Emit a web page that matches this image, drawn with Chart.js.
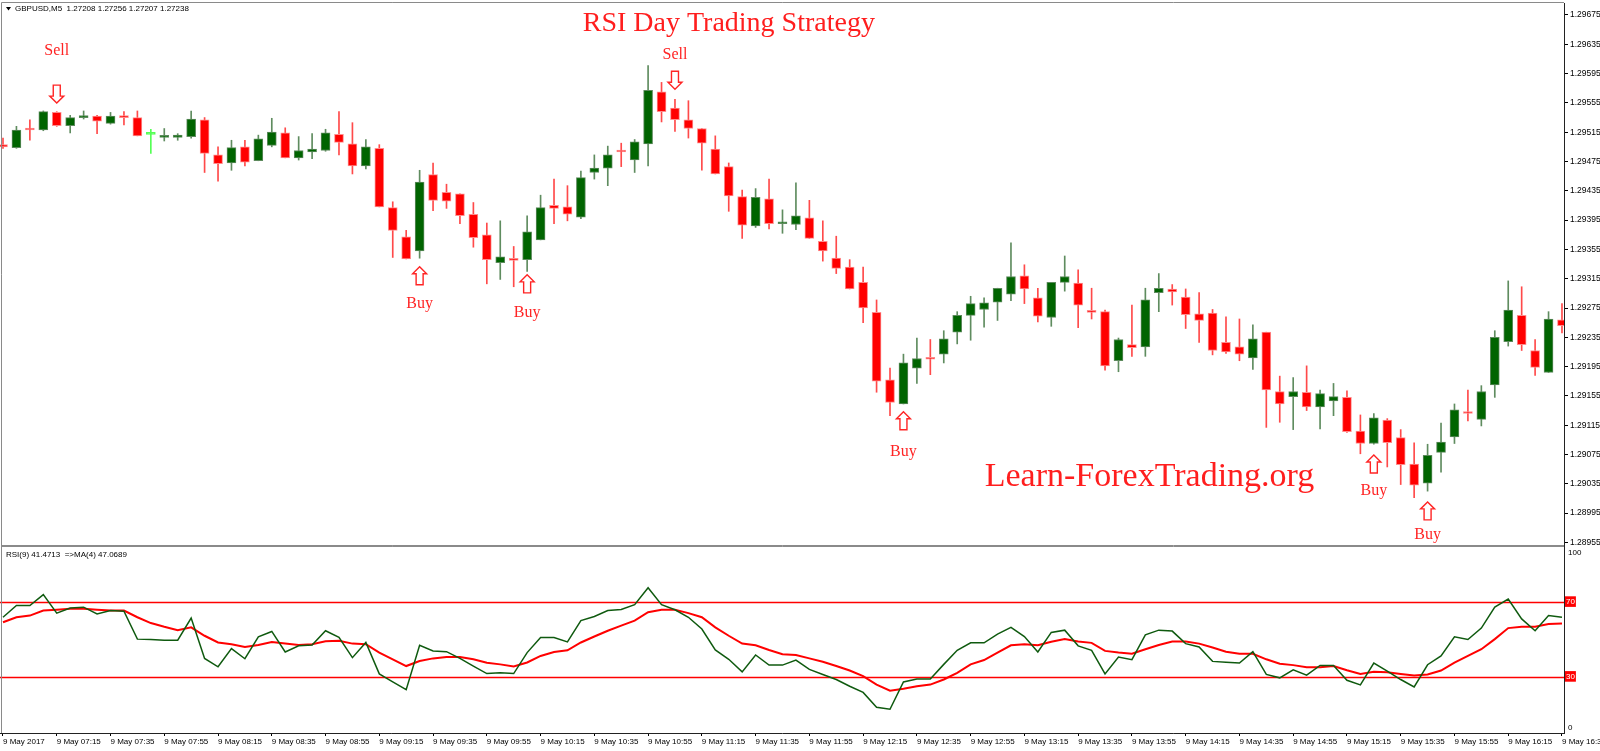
<!DOCTYPE html>
<html><head><meta charset="utf-8">
<script src="https://cdn.jsdelivr.net/npm/chart.js@4.4.1/dist/chart.umd.min.js"></script>
<style>
html,body{margin:0;padding:0;background:#fff;overflow:hidden;}
#wrap{position:relative;width:1600px;height:751px;background:#fff;}
#c1{position:absolute;left:0;top:0;}
#c2{position:absolute;left:0;top:546px;}
</style></head><body>
<div id="wrap">
<canvas id="c1" width="1600" height="546"></canvas>
<canvas id="c2" width="1600" height="205"></canvas>
</div>
<script>
// ---------------- DATA ----------------
const headerText = "GBPUSD,M5  1.27208 1.27256 1.27207 1.27238";
const titleText = "RSI Day Trading Strategy";
const siteText = "Learn-ForexTrading.org";
const rsiLabel = "RSI(9) 41.4713  =>MA(4) 47.0689";

const opens = [1.29498,1.29494,1.29519,1.29518,1.29542,1.29524,1.29535,1.29537,1.29527,1.29537,
1.29535,1.29512,1.29508,1.29508,1.29509,1.29532,1.29484,1.29473,1.29495,1.29476,
1.29497,1.29514,1.29480,1.29488,1.29490,1.29512,1.29499,1.29469,1.29493,1.29412,
1.29372,1.29353,1.29457,1.29433,1.29431,1.29403,1.29375,1.29337,1.29342,1.29341,
1.29368,1.29415,1.29413,1.29399,1.29460,1.29466,1.29490,1.29477,1.29499,1.29570,
1.29548,1.29532,1.29520,1.29492,1.29468,1.29427,1.29387,1.29424,1.29390,1.29389,
1.29398,1.29366,1.29343,1.29331,1.29310,1.29269,1.29177,1.29144,1.29193,1.29206,
1.29212,1.29242,1.29265,1.29273,1.29283,1.29294,1.29319,1.29289,1.29262,1.29310,
1.29309,1.29271,1.29270,1.29203,1.29225,1.29222,1.29296,1.29301,1.29290,1.29267,
1.29268,1.29228,1.29222,1.29207,1.29242,1.29161,1.29154,1.29160,1.29140,1.29148,
1.29153,1.29107,1.29090,1.29122,1.29098,1.29062,1.29036,1.29078,1.29099,1.29132,
1.29123,1.29170,1.29229,1.29265,1.29217,1.29187,1.29259];
const highs = [1.29507,1.29523,1.29532,1.29544,1.29543,1.29538,1.29544,1.29538,1.29542,1.29543,
1.29544,1.29519,1.29520,1.29513,1.29544,1.29535,1.29495,1.29504,1.29504,1.29511,
1.29534,1.29521,1.29509,1.29513,1.29519,1.29543,1.29528,1.29505,1.29498,1.29420,
1.29381,1.29463,1.29473,1.29444,1.29431,1.29419,1.29391,1.29394,1.29359,1.29401,
1.29429,1.29451,1.29442,1.29462,1.29484,1.29496,1.29500,1.29505,1.29606,1.29583,
1.29560,1.29558,1.29520,1.29510,1.29473,1.29436,1.29438,1.29451,1.29409,1.29446,
1.29422,1.29394,1.29373,1.29341,1.29331,1.29286,1.29193,1.29212,1.29234,1.29232,
1.29244,1.29270,1.29291,1.29289,1.29302,1.29364,1.29334,1.29302,1.29310,1.29346,
1.29327,1.29302,1.29272,1.29234,1.29279,1.29302,1.29322,1.29307,1.29301,1.29296,
1.29273,1.29263,1.29260,1.29252,1.29242,1.29182,1.29180,1.29196,1.29163,1.29172,
1.29162,1.29129,1.29131,1.29124,1.29109,1.29091,1.29089,1.29118,1.29144,1.29163,
1.29169,1.29244,1.29312,1.29304,1.29232,1.29270,1.29281];
const lows = [1.29493,1.29493,1.29504,1.29517,1.29523,1.29514,1.29533,1.29513,1.29526,1.29525,
1.29510,1.29486,1.29503,1.29504,1.29507,1.29460,1.29448,1.29463,1.29469,1.29476,
1.29495,1.29480,1.29477,1.29479,1.29489,1.29484,1.29458,1.29465,1.29413,1.29344,
1.29342,1.29343,1.29408,1.29411,1.29390,1.29358,1.29308,1.29314,1.29304,1.29325,
1.29368,1.29390,1.29394,1.29397,1.29451,1.29442,1.29468,1.29460,1.29469,1.29529,
1.29516,1.29507,1.29463,1.29458,1.29407,1.29370,1.29385,1.29383,1.29377,1.29382,
1.29370,1.29339,1.29322,1.29301,1.29255,1.29160,1.29128,1.29144,1.29172,1.29184,
1.29200,1.29226,1.29231,1.29249,1.29258,1.29285,1.29281,1.29256,1.29250,1.29298,
1.29248,1.29260,1.29190,1.29188,1.29209,1.29209,1.29270,1.29279,1.29247,1.29228,
1.29211,1.29213,1.29203,1.29191,1.29112,1.29119,1.29109,1.29135,1.29110,1.29128,
1.29105,1.29076,1.29089,1.29058,1.29034,1.29016,1.29025,1.29051,1.29090,1.29121,
1.29114,1.29153,1.29223,1.29217,1.29183,1.29187,1.29241];
const closes = [1.29495,1.29518,1.29518,1.29543,1.29524,1.29535,1.29537,1.29530,1.29537,1.29535,
1.29510,1.29512,1.29510,1.29511,1.29533,1.29486,1.29472,1.29494,1.29474,1.29506,
1.29515,1.29480,1.29490,1.29492,1.29514,1.29501,1.29469,1.29495,1.29413,1.29381,
1.29342,1.29447,1.29422,1.29421,1.29401,1.29371,1.29341,1.29345,1.29340,1.29379,
1.29412,1.29411,1.29403,1.29453,1.29466,1.29484,1.29488,1.29502,1.29572,1.29543,
1.29532,1.29520,1.29500,1.29458,1.29428,1.29388,1.29426,1.29390,1.29392,1.29401,
1.29370,1.29353,1.29329,1.29301,1.29275,1.29175,1.29146,1.29200,1.29206,1.29205,
1.29233,1.29265,1.29281,1.29282,1.29302,1.29318,1.29301,1.29264,1.29310,1.29318,
1.29279,1.29269,1.29196,1.29232,1.29221,1.29286,1.29302,1.29297,1.29266,1.29258,
1.29217,1.29215,1.29212,1.29233,1.29163,1.29144,1.29161,1.29140,1.29158,1.29154,
1.29106,1.29090,1.29125,1.29091,1.29061,1.29033,1.29074,1.29092,1.29136,1.29131,
1.29161,1.29235,1.29272,1.29225,1.29194,1.29260,1.29251];

const rsiValues = [61.9,68.2,68.2,74.0,64.1,66.8,67.3,63.7,65.5,65.1,
50.2,50.0,49.6,49.6,61.5,39.9,35.4,45.1,39.7,51.4,
54.3,43.3,46.6,47.1,54.7,51.1,40.3,48.4,31.6,27.3,
23.2,46.9,43.9,43.5,39.9,35.8,31.8,32.2,31.8,43.0,
51.1,51.1,48.7,60.1,62.3,65.5,66.0,68.6,77.7,68.6,
65.9,61.9,55.6,44.4,39.4,32.7,41.7,36.3,36.3,39.0,
34.0,31.3,28.6,25.0,21.7,13.8,12.7,27.3,28.9,28.9,
36.7,44.2,48.2,48.2,52.9,56.5,51.6,43.3,53.8,55.0,
46.6,44.2,31.6,40.6,39.2,52.5,55.0,54.5,47.8,46.0,
38.3,37.9,37.4,43.5,31.3,29.5,33.8,30.9,36.1,36.1,
28.2,25.7,37.4,33.1,28.6,24.6,36.5,41.2,51.4,50.0,
56.1,67.3,71.6,61.0,54.7,62.8,61.9];
const maValues = [59.2,61.9,62.8,65.5,65.9,66.4,66.4,65.9,65.5,65.5,
61.9,58.8,56.8,55.0,56.5,52.0,48.4,47.5,46.0,47.1,
48.6,47.8,47.1,47.5,49.1,49.3,47.8,47.5,43.0,39.4,
35.8,38.5,39.9,40.6,40.6,39.4,37.6,36.7,35.6,37.7,
41.2,43.3,44.2,48.4,51.6,54.7,57.4,60.1,64.6,65.9,
65.9,64.1,61.9,56.5,52.0,47.8,46.9,44.4,42.1,41.7,
39.9,38.1,35.8,33.4,30.4,25.9,22.6,23.7,25.0,25.9,
28.6,32.2,36.7,39.0,43.0,46.9,47.5,46.9,48.8,50.2,
48.9,48.2,43.9,43.0,42.4,44.8,47.1,48.9,48.9,47.8,
45.7,43.5,42.4,42.4,39.4,37.0,36.3,35.2,35.2,35.8,
33.6,31.6,32.7,32.5,31.6,30.7,31.3,33.4,37.6,41.2,
44.8,50.2,56.1,56.8,56.8,58.3,58.6];

const timeLabels = ["9 May 2017","9 May 07:15","9 May 07:35","9 May 07:55","9 May 08:15","9 May 08:35",
"9 May 08:55","9 May 09:15","9 May 09:35","9 May 09:55","9 May 10:15","9 May 10:35","9 May 10:55",
"9 May 11:15","9 May 11:35","9 May 11:55","9 May 12:15","9 May 12:35","9 May 12:55","9 May 13:15",
"9 May 13:35","9 May 13:55","9 May 14:15","9 May 14:35","9 May 14:55","9 May 15:15","9 May 15:35",
"9 May 15:55","9 May 16:15","9 May 16:35"];
const priceTicks = [1.29675,1.29635,1.29595,1.29555,1.29515,1.29475,1.29435,1.29395,1.29355,1.29315,
1.29275,1.29235,1.29195,1.29155,1.29115,1.29075,1.29035,1.28995,1.28955];
const rsiLevels = [30, 70];

const signalBars = [4, 31, 39, 50, 67, 102, 106];
const signalTypes = ["Sell","Buy","Buy","Sell","Buy","Buy","Buy"];
const signalArrowPrice = [1.29567,1.29319,1.29308,1.29586,1.29121,1.29062,1.28998];
const signalTextPrice = [1.29626,1.29281,1.29268,1.29620,1.29079,1.29026,1.28966];

// ---------------- BUILD ----------------
const FONT = "'Liberation Sans', Arial, sans-serif";
const SERIF = "'Liberation Serif', 'Times New Roman', serif";
const idx = opens.map((_, i) => i);
const kind = i => closes[i] > opens[i] ? 'up' : (closes[i] < opens[i] ? 'down' : 'flat');
const bodyCol = {up:'#006400', down:'#ff0000', flat:'#55ff55'};
const edgeCol = {up:'#5d8a5d', down:'#ff8c8c', flat:'#55ff55'};
const wickCol = {up:'#5f8c5f', down:'#ff4a4a', flat:'#55ff55'};
const X_MIN = -0.223, X_MAX = 116.15;

function zeroPad(s){ s.paddingLeft = 0; s.paddingRight = 0; s.paddingTop = 0; s.paddingBottom = 0; }

function drawArrow(ctx, cx, cy, up){
  const h = 18, w = 14, sw = 7, headH = 7;
  const d = up ? -1 : 1;
  const top = cy - d*h/2, bot = cy + d*h/2, hs = bot - d*headH;
  ctx.beginPath();
  ctx.moveTo(cx - sw/2, top); ctx.lineTo(cx + sw/2, top); ctx.lineTo(cx + sw/2, hs);
  ctx.lineTo(cx + w/2, hs); ctx.lineTo(cx, bot); ctx.lineTo(cx - w/2, hs); ctx.lineTo(cx - sw/2, hs);
  ctx.closePath();
  ctx.fillStyle = '#ffffff'; ctx.fill();
  ctx.strokeStyle = '#ff2424'; ctx.lineWidth = 1.4; ctx.stroke();
}

const mainOverlay = {
  id: 'mainOverlay',
  beforeDraw(chart){ const c = chart.ctx; c.save(); c.fillStyle = '#fff'; c.fillRect(0,0,chart.width,chart.height); c.restore(); },
  afterDraw(chart){
    const {ctx, chartArea:a, scales:{x, y}} = chart;
    ctx.save();
    ctx.strokeStyle = '#8a8a8a'; ctx.lineWidth = 1;
    ctx.beginPath();
    ctx.moveTo(1.5, a.top - 0.5); ctx.lineTo(a.right, a.top - 0.5);
    ctx.moveTo(1.5, a.top - 0.5); ctx.lineTo(1.5, a.bottom);
    ctx.moveTo(1.5, a.bottom - 0.5); ctx.lineTo(a.right, a.bottom - 0.5);
    ctx.stroke();
    // header
    ctx.fillStyle = '#000';
    ctx.beginPath(); ctx.moveTo(6, 7); ctx.lineTo(11, 7); ctx.lineTo(8.5, 10.5); ctx.closePath(); ctx.fill();
    ctx.font = '8px ' + FONT; ctx.textAlign = 'left'; ctx.textBaseline = 'middle';
    ctx.fillText(headerText, 15, 9);
    // titles
    ctx.fillStyle = '#ff1e1e'; ctx.textAlign = 'center'; ctx.textBaseline = 'middle';
    ctx.font = '28px ' + SERIF;
    ctx.fillText(titleText, a.left + a.width * 0.466, a.top + 20.5);
    ctx.font = '34px ' + SERIF;
    ctx.fillText(siteText, a.left + a.width * 0.735, a.top + 474);
    // signals
    signalBars.forEach((b, k) => {
      const cx = x.getPixelForValue(b);
      drawArrow(ctx, cx, y.getPixelForValue(signalArrowPrice[k]), signalTypes[k] === 'Buy');
      ctx.fillStyle = '#ff2424'; ctx.font = '16px ' + SERIF; ctx.textAlign = 'center'; ctx.textBaseline = 'middle';
      ctx.fillText(signalTypes[k], cx, y.getPixelForValue(signalTextPrice[k]));
    });
    ctx.restore();
  }
};

new Chart(document.getElementById('c1'), {
  type: 'bar',
  data: { datasets: [
    { data: idx.map(i => ({x: i, y: [lows[i], highs[i]]})), backgroundColor: idx.map(i => wickCol[kind(i)]),
      barThickness: 1, grouped: false, order: 2 },
    { data: idx.map(i => ({x: i, y: [opens[i], closes[i]]})), backgroundColor: idx.map(i => bodyCol[kind(i)]),
      borderColor: idx.map(i => edgeCol[kind(i)]), borderWidth: 1, borderSkipped: false,
      barThickness: 9, minBarLength: 2, grouped: false, order: 1 }
  ]},
  options: {
    responsive: false, animation: false, events: [],
    layout: { padding: { top: 3, left: 0, right: 0, bottom: 0 } },
    plugins: { legend: { display: false }, tooltip: { enabled: false } },
    scales: {
      x: { type: 'linear', display: false, min: X_MIN, max: X_MAX, offset: false },
      y: { position: 'right', min: 1.2895009, max: 1.2969138,
        afterBuildTicks: s => { s.ticks = priceTicks.map(v => ({value: v})); },
        afterFit: s => { s.width = 36; zeroPad(s); },
        ticks: { callback: v => Number(v).toFixed(5), font: { family: FONT, size: 8.5 }, color: '#000', padding: 2, autoSkip: false },
        grid: { drawOnChartArea: false, tickLength: 4, color: '#000' },
        border: { color: '#222' } }
    }
  },
  plugins: [mainOverlay]
});

const rsiOverlay = {
  id: 'rsiOverlay',
  beforeDraw(chart){ const c = chart.ctx; c.save(); c.fillStyle = '#fff'; c.fillRect(0,0,chart.width,chart.height); c.restore(); },
  beforeDatasetsDraw(chart){
    const {ctx, chartArea:a, scales:{y}} = chart;
    ctx.save(); ctx.strokeStyle = '#ff0000'; ctx.lineWidth = 1.5;
    rsiLevels.forEach(v => { const py = Math.round(y.getPixelForValue(v)) + 0.5; ctx.beginPath(); ctx.moveTo(a.left, py); ctx.lineTo(a.right, py); ctx.stroke(); });
    ctx.restore();
  },
  afterDraw(chart){
    const {ctx, chartArea:a} = chart;
    ctx.save();
    ctx.strokeStyle = '#8a8a8a'; ctx.lineWidth = 1;
    ctx.beginPath();
    ctx.moveTo(1.5, a.top + 0.5); ctx.lineTo(a.right, a.top + 0.5);
    ctx.moveTo(1.5, a.top); ctx.lineTo(1.5, a.bottom);
    ctx.stroke();
    ctx.fillStyle = '#000'; ctx.font = '8px ' + FONT; ctx.textAlign = 'left'; ctx.textBaseline = 'middle';
    ctx.fillText(rsiLabel, 6, a.top + 9);
    ctx.fillText('100', a.right + 4, a.top + 7);
    ctx.fillText('0', a.right + 4, a.bottom - 5);
    ctx.restore();
  }
};

new Chart(document.getElementById('c2'), {
  type: 'line',
  data: { datasets: [
    { data: idx.map(i => ({x: i, y: rsiValues[i]})), borderColor: '#0f5a0f', borderWidth: 1.5, pointRadius: 0, tension: 0 },
    { data: idx.map(i => ({x: i, y: maValues[i]})), borderColor: '#ff0000', borderWidth: 2, pointRadius: 0, tension: 0 }
  ]},
  options: {
    responsive: false, animation: false, events: [],
    layout: { padding: 0 },
    plugins: { legend: { display: false }, tooltip: { enabled: false } },
    scales: {
      x: { type: 'linear', min: X_MIN, max: X_MAX, offset: false,
        afterBuildTicks: s => { s.ticks = timeLabels.map((t, k) => ({value: k * 4})); },
        afterFit: s => { s.height = 18; zeroPad(s); },
        ticks: { autoSkip: false, maxRotation: 0, align: 'start', padding: 1, font: { family: FONT, size: 8 }, color: '#000',
          callback: (v, k) => timeLabels[k] },
        grid: { drawOnChartArea: false, tickLength: 3, color: '#000' },
        border: { color: '#222' } },
      y: { position: 'right', min: 0, max: 100,
        afterBuildTicks: s => { s.ticks = rsiLevels.map(v => ({value: v})); },
        afterFit: s => { s.width = 36; zeroPad(s); },
        ticks: { font: { family: FONT, size: 8 }, color: '#ffffff', padding: 2,
          showLabelBackdrop: true, backdropColor: '#ff0000', backdropPadding: { top: 1, bottom: 0, left: 1, right: 1 } },
        grid: { drawOnChartArea: false, drawTicks: false },
        border: { color: '#222' } }
    }
  },
  plugins: [rsiOverlay]
});
</script>
</body></html>
